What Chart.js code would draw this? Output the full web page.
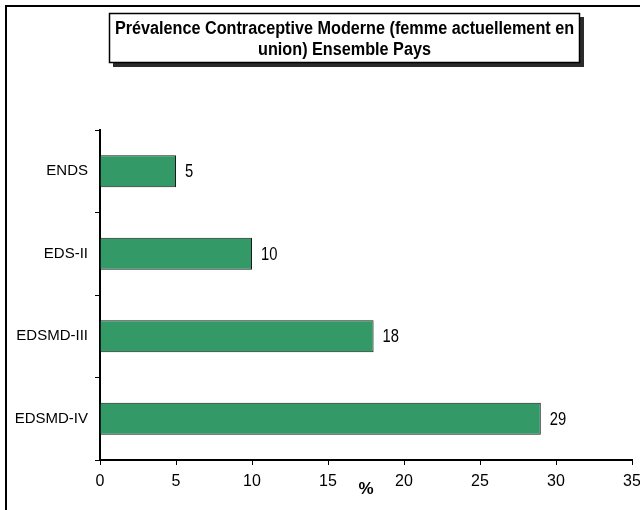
<!DOCTYPE html>
<html>
<head>
<meta charset="utf-8">
<title>Prévalence Contraceptive Moderne</title>
<script src="https://cdn.jsdelivr.net/npm/chart.js@4.4.1/dist/chart.umd.min.js"></script>
<style>
  html, body { margin: 0; padding: 0; background: #fff; }
  canvas { display: block; }
</style>
</head>
<body>
<canvas id="prevalenceChart" width="640" height="510"></canvas>
<script>
// Données
const categories = ['ENDS', 'EDS-II', 'EDSMD-III', 'EDSMD-IV'];
const prevalence = [5, 10, 18, 29];
const titleLines = ['Prévalence Contraceptive Moderne (femme actuellement en', 'union) Ensemble Pays'];
const xAxisTitle = '%';
const xMin = 0;
const xMax = 35;
const xStep = 5;

const FONT = "'Liberation Sans', Arial, sans-serif";

// texte "étroit" : police plus haute, compressée horizontalement
function narrowText(ctx, text, x, y, squeeze) {
  ctx.save();
  ctx.translate(x, y);
  ctx.scale(squeeze, 1);
  ctx.fillText(text, 0, 0);
  ctx.restore();
}

// Cadre extérieur + boîte du titre avec ombre
const framePlugin = {
  id: 'frame',
  beforeDraw(chart) {
    const ctx = chart.ctx;
    ctx.save();
    ctx.fillStyle = '#fff';
    ctx.fillRect(0, 0, chart.width, chart.height);
    ctx.strokeStyle = '#000';
    ctx.lineWidth = 2;
    ctx.beginPath();
    ctx.moveTo(6, chart.height);
    ctx.lineTo(6, 6);
    ctx.lineTo(chart.width, 6);
    ctx.stroke();

    // ombre
    ctx.fillStyle = '#2b2b2b';
    ctx.fillRect(113, 17, 471, 50);
    // boîte
    ctx.fillStyle = '#fff';
    ctx.fillRect(109, 13, 471, 50);
    ctx.lineWidth = 1.5;
    ctx.strokeRect(109.5, 13.5, 470, 49);

    ctx.fillStyle = '#000';
    ctx.font = 'bold 18px ' + FONT;
    ctx.textAlign = 'center';
    ctx.textBaseline = 'middle';
    narrowText(ctx, titleLines[0], 344.5, 29, 0.9);
    narrowText(ctx, titleLines[1], 344.5, 50, 0.9);
    ctx.restore();
  }
};

// Valeurs à droite des barres
const valueLabels = {
  id: 'valueLabels',
  afterDatasetsDraw(chart) {
    const ctx = chart.ctx;
    const meta = chart.getDatasetMeta(0);
    ctx.save();
    ctx.fillStyle = '#000';
    ctx.font = '18px ' + FONT;
    ctx.textAlign = 'left';
    ctx.textBaseline = 'middle';
    meta.data.forEach((bar, i) => {
      narrowText(ctx, String(prevalence[i]), bar.x + 9, bar.y + 1, 0.82);
    });
    ctx.restore();
  }
};

const ctx = document.getElementById('prevalenceChart').getContext('2d');
const chart = new Chart(ctx, {
  type: 'bar',
  data: {
    labels: categories,
    datasets: [{
      data: prevalence,
      backgroundColor: '#339966',
      borderColor: '#1a1a1a',
      borderWidth: 1,
      categoryPercentage: 1,
      barPercentage: 0.39
    }]
  },
  options: {
    indexAxis: 'y',
    responsive: false,
    animation: false,
    devicePixelRatio: 1,
    layout: {
      padding: { top: 130, left: 0, right: 8, bottom: 0 }
    },
    plugins: {
      legend: { display: false },
      title: { display: false },
      tooltip: { enabled: false }
    },
    scales: {
      x: {
        min: xMin,
        max: xMax,
        ticks: {
          stepSize: xStep,
          color: '#000',
          font: { family: FONT, size: 16 },
          padding: 7,
          maxRotation: 0
        },
        grid: {
          drawOnChartArea: false,
          color: '#000',
          tickLength: 5,
          lineWidth: 1
        },
        border: { color: '#000', width: 2 },
        title: {
          display: true,
          text: xAxisTitle,
          color: '#000',
          font: { family: FONT, size: 17, weight: 'bold' },
          padding: { top: 0, bottom: 10 }
        },
        afterFit(scale) {
          scale.height = 50;
          scale.paddingLeft = 0;
          scale.paddingRight = 0;
        }
      },
      y: {
        ticks: {
          color: '#000',
          font: { family: FONT, size: 15 },
          padding: 7
        },
        grid: {
          offset: true,
          drawOnChartArea: false,
          color: '#000',
          tickLength: 5,
          lineWidth: 1
        },
        border: { color: '#000', width: 2 },
        afterFit(scale) {
          scale.width = 100;
          scale.paddingTop = 0;
          scale.paddingBottom = 0;
        }
      }
    }
  },
  plugins: [framePlugin, valueLabels]
});
</script>
</body>
</html>
